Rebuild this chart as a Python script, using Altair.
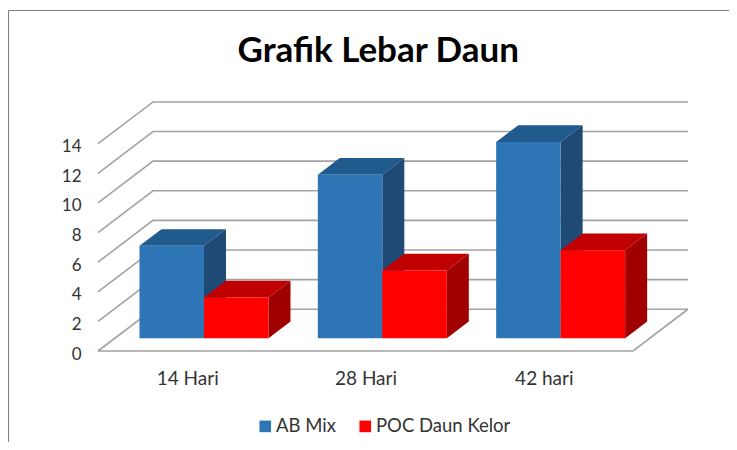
import altair as alt
import pandas as pd

categories = ["14 Hari", "28 Hari", "42 hari"]
ab_mix = [6.24, 11.04, 13.25]
poc = [2.76, 4.58, 5.95]
ticks = [0, 2, 4, 6, 8, 10, 12, 14]
series = ["AB Mix", "POC Daun Kelor"]

# projection of the depth axis, in category units and value units
DX = 55 / 178.33
DY = 41.7 / 14.79
D0, D1 = 0.305, 0.705
GAP = 0.1385
BW = 0.3617
XMAX = 3 + DX
YMAX = 248.7 / 14.79


def px(cat_pos, d):
    return cat_pos + d * DX


def py(v, d):
    return v + d * DY


grid_rows = []
for t in ticks:
    grid_rows += [
        {"g": t, "o": 0, "x": 0, "y": t},
        {"g": t, "o": 1, "x": DX, "y": t + DY},
        {"g": t, "o": 2, "x": 3 + DX, "y": t + DY},
    ]
grid_rows += [
    {"g": -1, "o": 0, "x": 0, "y": 0},
    {"g": -1, "o": 1, "x": 3, "y": 0},
    {"g": -1, "o": 2, "x": 3 + DX, "y": DY},
]

xs = alt.Scale(domain=[0, XMAX], nice=False, zero=False)
ys = alt.Scale(domain=[0, YMAX], nice=False, zero=False)
X = alt.X("x:Q", scale=xs, axis=alt.Axis(
    values=[0.5, 1.5, 2.5], title=None, domain=False, ticks=False, grid=False,
    labelExpr="datum.value < 1 ? '14 Hari' : datum.value < 2 ? '28 Hari' : '42 hari'",
    labelFont="Lato", labelFontSize=19, labelColor="#333333", labelPadding=18,
))
Y = alt.Y("y:Q", scale=ys, axis=alt.Axis(
    values=ticks, title=None, domain=False, ticks=False, grid=False, labelOffset=3,
    labelFont="Lato", labelFontSize=17, labelColor="#333333", labelPadding=17,
))

grid = alt.Chart(pd.DataFrame(grid_rows)).mark_line(
    color="#a3a3a3", strokeWidth=1.6
).encode(x=X, y=Y, detail="g:N", order="o:Q")

layers = [grid]
palette = [("#2E75B6", "#1F4A75", "#215A8C"), ("#FF0000", "#A00000", "#C00000")]
for s, (name, vals, cols) in enumerate(zip(series, [ab_mix, poc], palette)):
    front, side, top = [], [], []
    for c, v in enumerate(vals):
        x0 = c + GAP + s * BW
        x1 = x0 + BW
        front.append({"x": px(x0, D0), "x2": px(x1, D0), "y": py(0, D0), "y2": py(v, D0), "s": name})
        for d in (D0, D1):
            side.append({"c": c, "x": px(x1, d), "y": py(0, d), "y2": py(v, d)})
            top.append({"c": c, "y": py(v, d), "x": px(x0, d), "x2": px(x1, d)})
    layers.append(alt.Chart(pd.DataFrame(top)).mark_area(orient="horizontal", color=cols[2]).encode(
        y=Y, x=X, x2="x2:Q", detail="c:N"))
    layers.append(alt.Chart(pd.DataFrame(side)).mark_area(color=cols[1]).encode(
        x=X, y=Y, y2="y2:Q", detail="c:N"))
    layers.append(alt.Chart(pd.DataFrame(front)).mark_rect().encode(
        x=X, x2="x2:Q", y=Y, y2="y2:Q",
        color=alt.Color("s:N", scale=alt.Scale(domain=series, range=[palette[0][0], palette[1][0]]),
                        legend=alt.Legend(
                            orient="none", legendX=158, legendY=315, direction="horizontal",
                            columns=2, title=None, symbolType="square", symbolSize=135,
                            symbolStrokeWidth=0, labelFont="Lato", labelFontSize=18.5,
                            labelColor="#333333", columnPadding=20, labelOffset=1.5,
                        )),
    ))

# frame of the picture
frame_v = alt.Chart(pd.DataFrame({"a": [0]})).mark_rule(color="#808080", strokeWidth=1).encode(
    x=alt.value(-89.5), y=alt.value(-91.5), y2=alt.value(340))
frame_h = alt.Chart(pd.DataFrame({"a": [0]})).mark_rule(color="#808080", strokeWidth=1).encode(
    y=alt.value(-91.5), x=alt.value(-89.5), x2=alt.value(631))
layers += [frame_v, frame_h]

chart = alt.layer(*layers).properties(
    width=590, height=249,
    padding={"left": 90, "top": 94, "right": 41, "bottom": 91},
    autosize=alt.AutoSizeParams(type="none"),
    title=alt.TitleParams("Grafik Lebar Daun", font="Lato", fontSize=35, fontWeight="bold",
                          color="#000000", anchor="start", dx=229.5, offset=-87, baseline="alphabetic"),
).configure_view(stroke=None)

chart.save("out.html", embed_options={"renderer": "svg", "actions": False})
